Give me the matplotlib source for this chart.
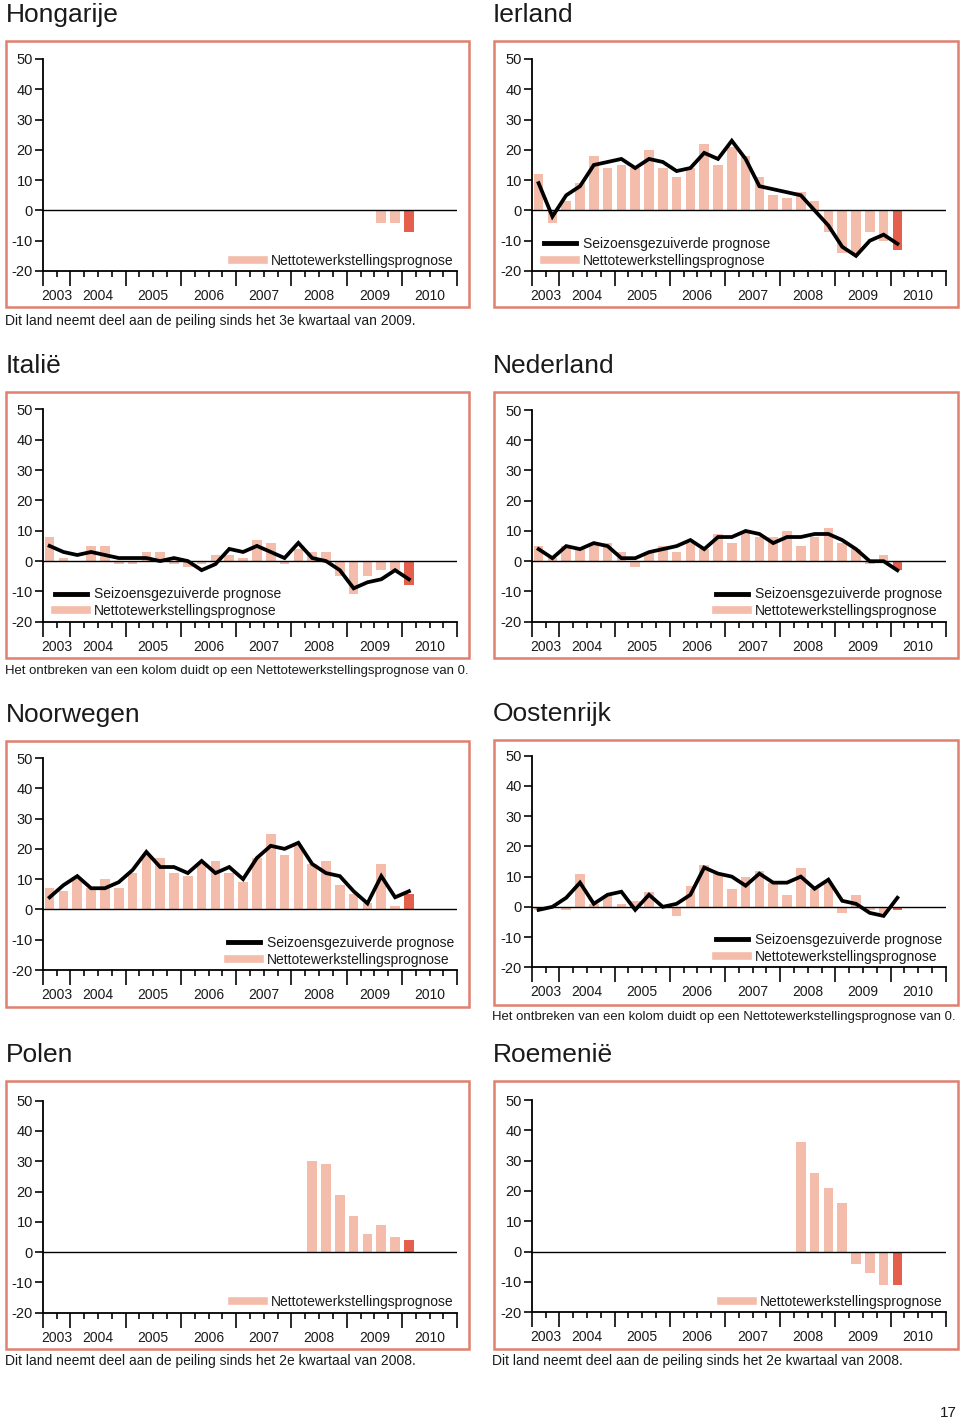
import numpy as np
import matplotlib
matplotlib.use("Agg")
import matplotlib.pyplot as plt
from matplotlib import rcParams
from matplotlib.lines import Line2D
from matplotlib.patches import Rectangle

rcParams.update({
    "font.family": ["Liberation Sans", "DejaVu Sans"],
    "axes.unicode_minus": False,
    "text.color": "#1a1a1a",
    "xtick.color": "#1a1a1a",
    "ytick.color": "#1a1a1a",
})

# ====================================================================
# Data — quarters 2003Q3 .. 2010Q1 (None = country not in survey yet)
# ====================================================================
QUARTERS = ["2003Q3", "2003Q4"] + [f"{y}Q{q}" for y in range(2004, 2010) for q in range(1, 5)] + ["2010Q1"]
YEARS = ["2003", "2004", "2005", "2006", "2007", "2008", "2009", "2010"]

hongarije_bars = [None] * 24 + [-4, -4, -7]

ierland_bars = [12, -4, 3, 9, 18, 14, 15, 14, 20, 14, 11, 14, 22, 15, 21, 18, 11, 5, 4, 6, 3, -7, -14, -14, -7, -10, -13]
ierland_line = [9, -2, 5, 8, 15, 16, 17, 14, 17, 16, 13, 14, 19, 17, 23, 17, 8, 7, 6, 5, 0, -5, -12, -15, -10, -8, -11]

italie_bars = [8, 1, 0, 5, 5, -1, -1, 3, 3, -1, -2, -1, 2, 2, 1, 7, 6, -1, 4, 3, 3, -5, -11, -5, -3, -3, -8]
italie_line = [5, 3, 2, 3, 2, 1, 1, 1, 0, 1, 0, -3, -1, 4, 3, 5, 3, 1, 6, 1, 0, -3, -9, -7, -6, -3, -6]

nederland_bars = [5, 1, 5, 4, 6, 6, 3, -2, 3, 5, 3, 6, 4, 9, 6, 10, 8, 8, 10, 5, 8, 11, 6, 4, -1, 2, -3]
nederland_line = [4, 1, 5, 4, 6, 5, 1, 1, 3, 4, 5, 7, 4, 8, 8, 10, 9, 6, 8, 8, 9, 9, 7, 4, 0, 0, -3]

noorwegen_bars = [7, 6, 10, 7, 10, 7, 12, 18, 17, 12, 11, 15, 16, 12, 9, 17, 25, 18, 21, 15, 16, 8, 5, 2, 15, 1, 5]
noorwegen_line = [4, 8, 11, 7, 7, 9, 13, 19, 14, 14, 12, 16, 12, 14, 10, 17, 21, 20, 22, 15, 12, 11, 6, 2, 11, 4, 6]

oostenrijk_bars = [-1, 0, -1, 11, 1, 4, 1, 2, 5, 0, -3, 7, 14, 11, 6, 10, 12, 8, 4, 13, 6, 8, -2, 4, -1, -2, -1]
oostenrijk_line = [-1, 0, 3, 8, 1, 4, 5, -1, 4, 0, 1, 4, 13, 11, 10, 7, 11, 8, 8, 10, 6, 9, 2, 1, -2, -3, 3]

polen_bars = [None] * 19 + [30, 29, 19, 12, 6, 9, 5, 4]
roemenie_bars = [None] * 19 + [36, 26, 21, 16, -4, -7, -11, -11]

NOTE_SINCE_2009 = "Dit land neemt deel aan de peiling sinds het 3e kwartaal van 2009."
NOTE_SINCE_2008 = "Dit land neemt deel aan de peiling sinds het 2e kwartaal van 2008."
NOTE_ZERO = "Het ontbreken van een kolom duidt op een Nettotewerkstellingsprognose van 0."

LBL_LINE = "Seizoensgezuiverde prognose"
LBL_BAR = "Nettotewerkstellingsprognose"

# ====================================================================
# Style
# ====================================================================
LIGHT = "#f4bcaa"
DARK = "#e5604c"
BORDER = "#e08070"
W, H = 960, 1425
FS = 10.0
NOTE_FS = {NOTE_SINCE_2009: 10.0, NOTE_SINCE_2008: 10.0, NOTE_ZERO: 9.45}

# year boundaries in quarter units (2003 only has two quarters)
YEAR_EDGES = [0, 2, 6, 10, 14, 18, 22, 26, 30]

# name, bars, line, column, y of 50 / -20, box top / bottom, legend loc, note, note y
PANELS = [
    ("Hongarije", hongarije_bars, None, 0, 59, 271, 41, 307, "lower right", NOTE_SINCE_2009, 321),
    ("Ierland", ierland_bars, ierland_line, 1, 59, 271, 41, 307, "lower left", None, None),
    ("Italië", italie_bars, italie_line, 0, 409.5, 621.7, 392, 658, "lower left", NOTE_ZERO, 671),
    ("Nederland", nederland_bars, nederland_line, 1, 410, 621.7, 392, 658, "lower right", None, None),
    ("Noorwegen", noorwegen_bars, noorwegen_line, 0, 758, 970, 741, 1007, "lower right", None, None),
    ("Oostenrijk", oostenrijk_bars, oostenrijk_line, 1, 755.7, 967.3, 740, 1005, "lower right", NOTE_ZERO, 1017),
    ("Polen", polen_bars, None, 0, 1100.7, 1312.7, 1081, 1349, "lower right", NOTE_SINCE_2008, 1361),
    ("Roemenië", roemenie_bars, None, 1, 1100, 1312.3, 1081, 1349, "lower right", NOTE_SINCE_2008, 1361),
]
COLS = [
    # axis left, axis right, box left, box right, text left
    (42.7, 457.3, 6, 469, 5),
    (531.7, 945.7, 494, 958, 492),
]


def fx(x):
    return x / W


def fy(y):
    return 1 - y / H


fig = plt.figure(figsize=(W / 100, H / 100), dpi=100)


def draw_panel(name, bars, line, col, y50, ym20, btop, bbot, legloc, note, note_y):
    axl, axr, bl, br, tl = COLS[col]

    # salmon frame around the chart
    fig.patches.append(Rectangle((fx(bl), fy(bbot)), fx(br - bl), (bbot - btop) / H,
                                 transform=fig.transFigure, fill=False,
                                 edgecolor=BORDER, linewidth=1.8, zorder=0))
    fig.text(fx(tl + 1), fy(btop - 26), name, fontsize=19, ha="left", va="center")
    if note:
        fig.text(fx(tl), fy(note_y), note, fontsize=NOTE_FS[note], ha="left", va="center")

    ax = fig.add_axes([fx(axl), fy(ym20), fx(axr - axl), (ym20 - y50) / H])
    ax.patch.set_alpha(0)

    x = np.arange(len(QUARTERS)) + 0.5
    vals = np.array([np.nan if v is None else v for v in bars], dtype=float)
    colors = [LIGHT] * (len(vals) - 1) + [DARK]
    ax.bar(x, np.nan_to_num(vals), width=0.7, color=colors, zorder=1)

    if line is not None:
        ax.plot(x, line, color="black", linewidth=2.7, solid_joinstyle="miter", zorder=3)

    ax.axhline(0, color="black", linewidth=1.0, zorder=4)

    ax.set_xlim(0, 30)
    ax.set_ylim(-20, 50)
    ax.set_yticks(range(-20, 51, 10))
    ax.set_xticks(YEAR_EDGES)
    ax.set_xticklabels([])
    ax.set_xticks(range(31), minor=True)
    ax.tick_params(axis="x", which="major", direction="out", length=11, width=1.3)
    ax.tick_params(axis="x", which="minor", direction="out", length=4.5, width=1.3)
    ax.tick_params(axis="y", direction="out", length=5.5, width=1.3, pad=1.5, labelsize=10.5)
    for s in ["top", "right"]:
        ax.spines[s].set_visible(False)
    for s in ["left", "bottom"]:
        ax.spines[s].set_linewidth(1.3)

    for i, yr in enumerate(YEARS):
        c = (YEAR_EDGES[i] + YEAR_EDGES[i + 1]) / 2
        ax.annotate(yr, xy=(c, 0), xycoords=("data", "axes fraction"),
                    xytext=(0, -18), textcoords="offset points",
                    ha="center", va="center", fontsize=FS)

    handles, labels = [], []
    if line is not None:
        handles.append(Line2D([], [], color="black", linewidth=3.5))
        labels.append(LBL_LINE)
    handles.append(Line2D([], [], color=LIGHT, linewidth=5.5))
    labels.append(LBL_BAR)
    leg = ax.legend(handles, labels, loc=legloc, frameon=False, fontsize=FS,
                    handlelength=2.3, handletextpad=0.5, labelspacing=0.2,
                    borderpad=0.0, borderaxespad=0.25)
    if legloc == "lower left":
        leg.set_bbox_to_anchor((0.022, 0.0), transform=ax.transAxes)
    else:
        leg.set_bbox_to_anchor((1.0, 0.0), transform=ax.transAxes)
    return ax


for p in PANELS:
    draw_panel(*p)

fig.text(fx(957), fy(1413), "17", fontsize=11, ha="right", va="center")

fig.savefig("out.png", dpi=100, facecolor="white")
